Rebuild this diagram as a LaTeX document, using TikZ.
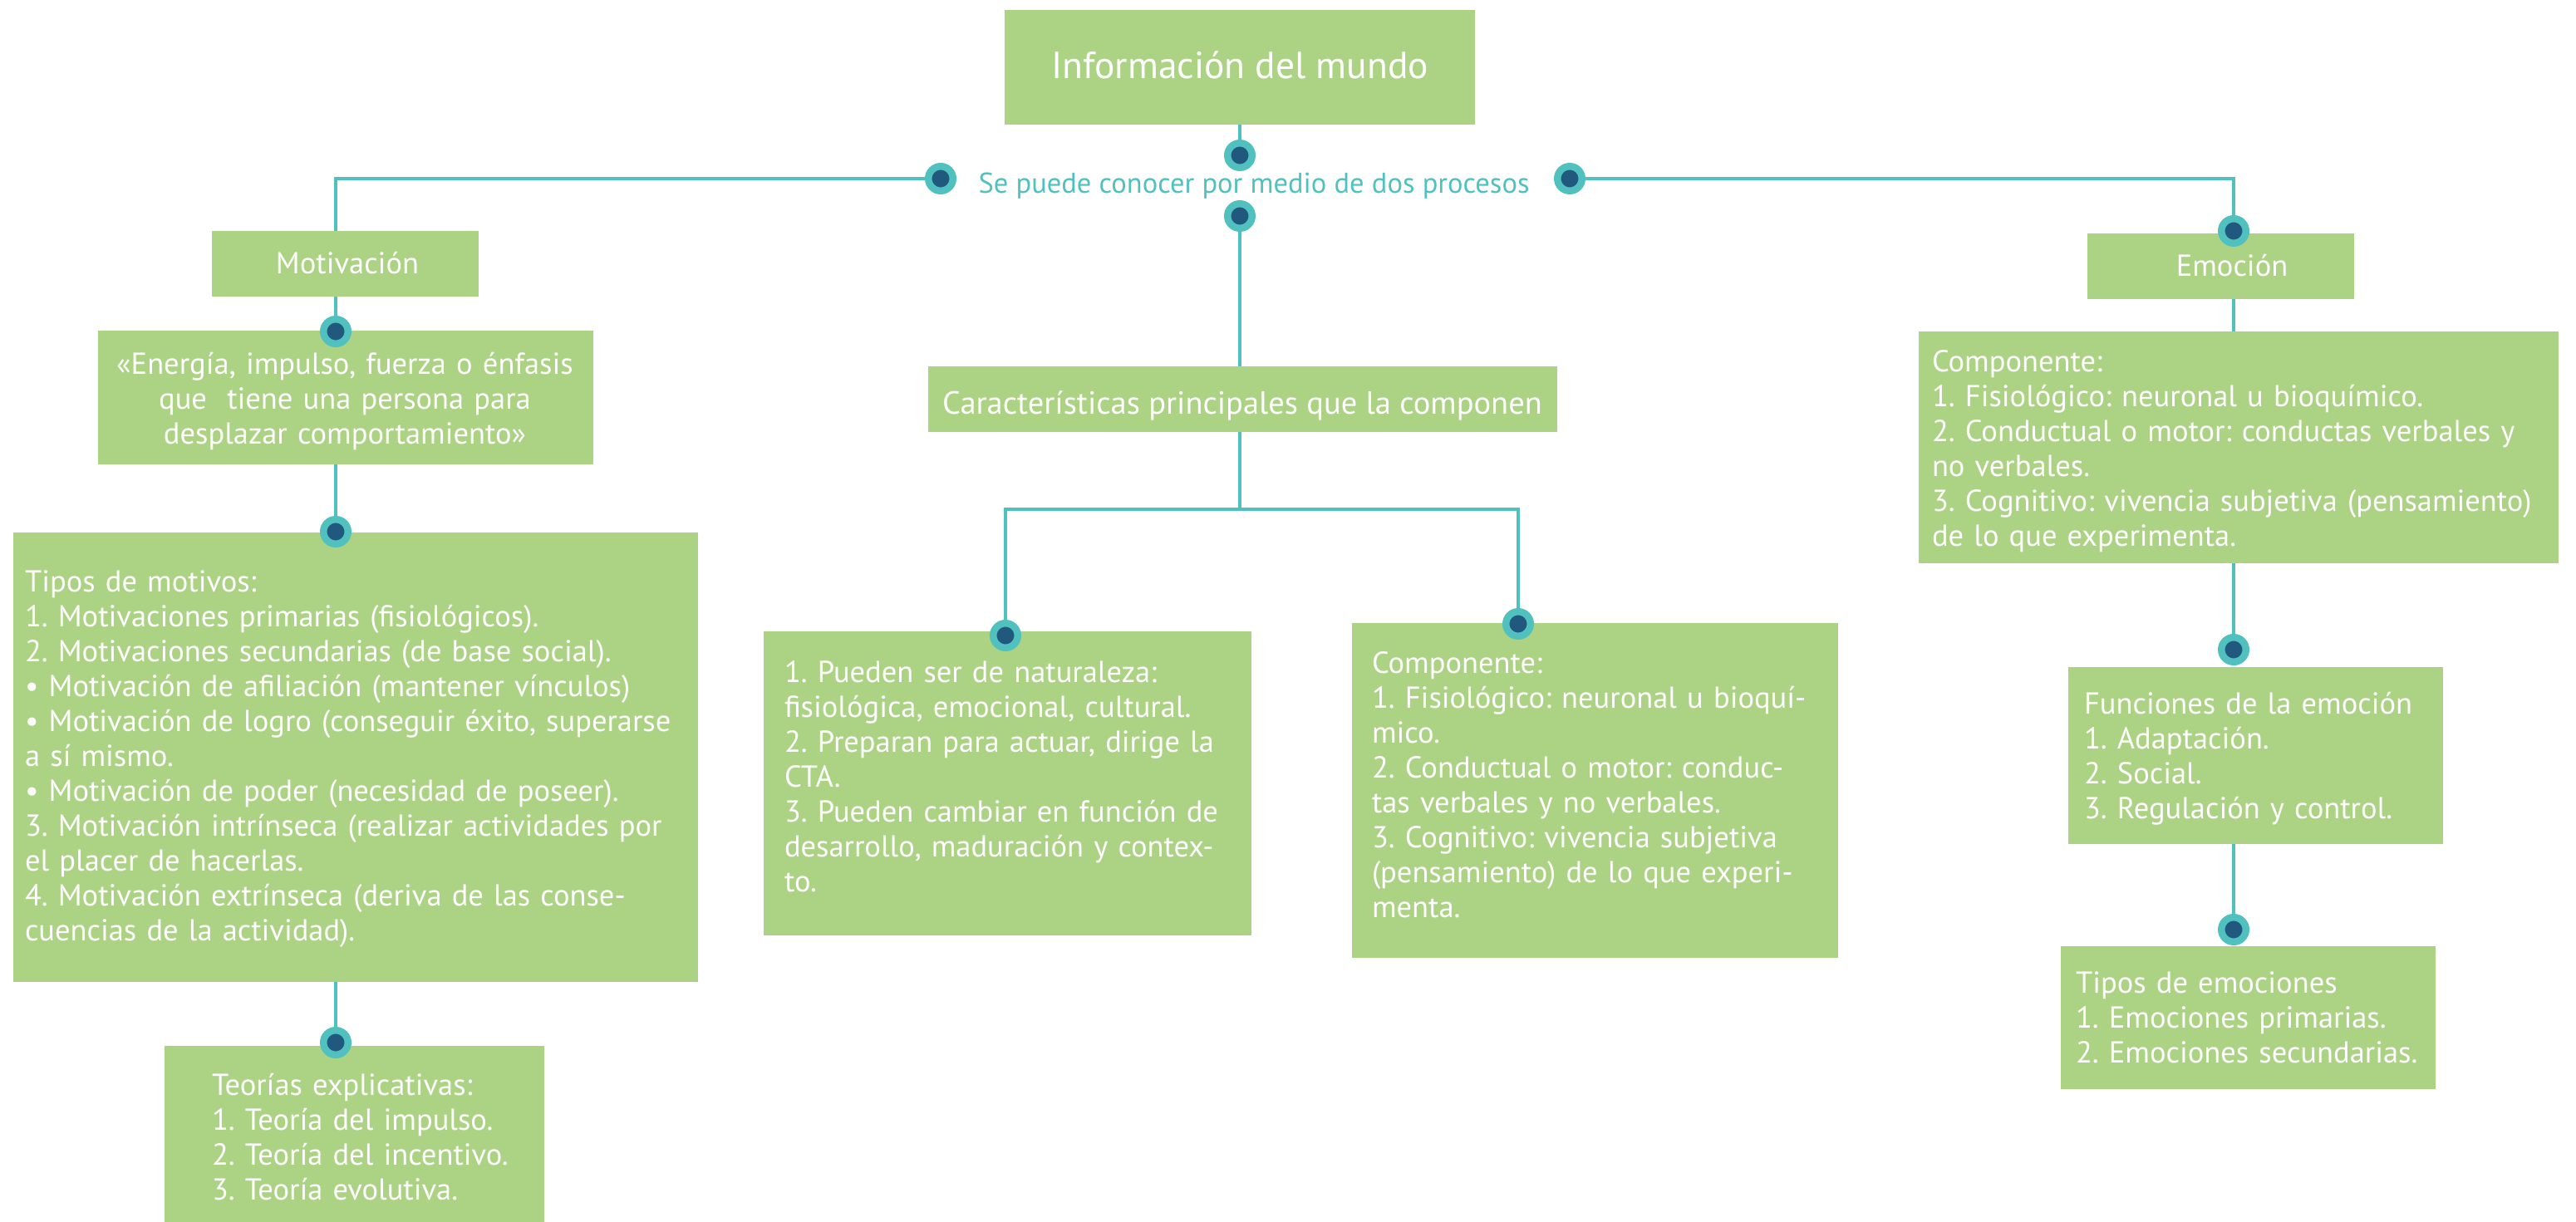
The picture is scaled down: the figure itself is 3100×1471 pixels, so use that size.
\documentclass[tikz,border=0pt]{standalone}
\usepackage{fontspec}
\setmainfont{PT Sans}
\frenchspacing
\definecolor{boxg}{RGB}{172,210,132}
\definecolor{lineteal}{RGB}{80,193,190}
\definecolor{dotblue}{RGB}{33,88,125}
\pgfdeclarelayer{background}
\pgfsetlayers{background,main}
\tikzset{
  box/.style={rectangle, fill=boxg, draw=none, inner sep=0pt, outer sep=0pt, anchor=north west},
  txt/.style={text=white, inner sep=0pt, outer sep=0pt, font=\fontsize{36.5}{42}\selectfont, align=left, anchor=base west},
  ctxt/.style={text=white, inner sep=0pt, outer sep=0pt, font=\fontsize{36.5}{42}\selectfont, align=center, anchor=base},
  conn/.style={draw=lineteal, line width=4.5pt},
  knot/.style={circle, fill=dotblue, draw=lineteal, line width=8.5pt, minimum size=29.5pt, inner sep=0pt, outer sep=0pt},
}
\begin{document}
\begin{tikzpicture}[x=1pt,y=-1pt]
\useasboundingbox (0,0) rectangle (3100,1471);
% boxes
\node[box, minimum width=566pt, minimum height=138pt] (title) at (1209,12) {};
\node[box, minimum width=321pt, minimum height=79pt] (mot) at (255,278) {};
\node[box, minimum width=596pt, minimum height=161pt] (ener) at (118,398) {};
\node[box, minimum width=824pt, minimum height=541pt] (tmot) at (16,641) {};
\node[box, minimum width=457pt, minimum height=212pt] (teor) at (198,1259) {};
\node[box, minimum width=757pt, minimum height=79pt] (car) at (1117,441) {};
\node[box, minimum width=587pt, minimum height=366pt] (bA) at (919,760) {};
\node[box, minimum width=585pt, minimum height=403pt] (bB) at (1627,750) {};
\node[box, minimum width=321pt, minimum height=79pt] (emo) at (2512,281) {};
\node[box, minimum width=770pt, minimum height=279pt] (comp) at (2309,399) {};
\node[box, minimum width=451pt, minimum height=213pt] (func) at (2489,803) {};
\node[box, minimum width=451pt, minimum height=172pt] (temo) at (2480,1139) {};
% knots
\node[knot] (dTop) at (1492,187) {};
\node[knot] (dL) at (1132,215) {};
\node[knot] (dR) at (1889,215) {};
\node[knot] (dB) at (1492,260) {};
\node[knot] (dEner) at (404,399) {};
\node[knot] (dTmot) at (404,640) {};
\node[knot] (dTeor) at (404,1255) {};
\node[knot] (dBA) at (1210,765) {};
\node[knot] (dBB) at (1827,751) {};
\node[knot] (dEmo) at (2688,278) {};
\node[knot] (dFunc) at (2688,782) {};
\node[knot] (dTemo) at (2688,1119) {};
\coordinate (br) at (1492,613);
% connectors
\begin{pgfonlayer}{background}
\draw[conn] (title.south -| dTop) -- (dTop);
\draw[conn] (dL) -| (mot.north -| dEner);
\draw[conn] (mot.south -| dEner) -- (dEner);
\draw[conn] (ener.south -| dTmot) -- (dTmot);
\draw[conn] (tmot.south -| dTeor) -- (dTeor);
\draw[conn] (dR) -| (dEmo);
\draw[conn] (emo.south -| dEmo) -- (comp.north -| dEmo);
\draw[conn] (comp.south -| dFunc) -- (dFunc);
\draw[conn] (func.south -| dTemo) -- (dTemo);
\draw[conn] (dB) -- (car.north -| dB);
\draw[conn] (car.south -| br) -- (br);
\draw[conn] (dBA) |- (br) -| (dBB);
\end{pgfonlayer}
% texts
\node[ctxt, font=\fontsize{45.5}{50}\selectfont] (title-t) at (1492,95) {Información del mundo};
\node[ctxt, text=lineteal, font=\fontsize{34.5}{40}\selectfont] (sub-t) at (1509,233) {Se puede conocer por medio de dos procesos};
\node[ctxt] (mot-t) at (418,330) {Motivación};
\node[ctxt, text width=590pt] (ener-t) at (415,450) {«Energía, impulso, fuerza o énfasis\\que\ \ tiene una persona para\\desplazar comportamiento»};
\node[txt, text width=810pt] (tmot-t) at (30,712) {Tipos de motivos:\\
1. Motivaciones primarias (fisiológicos).\\
2. Motivaciones secundarias (de base social).\\
• Motivación de afiliación (mantener vínculos)\\
• Motivación de logro (conseguir éxito, superarse\\
a sí mismo.\\
• Motivación de poder (necesidad de poseer).\\
3. Motivación intrínseca (realizar actividades por\\
el placer de hacerlas.\\
4. Motivación extrínseca (deriva de las conse-\\
cuencias de la actividad).};
\node[txt, text width=400pt] (teor-t) at (255,1318) {Teorías explicativas:\\
1. Teoría del impulso.\\
2. Teoría del incentivo.\\
3. Teoría evolutiva.};
\node[ctxt, font=\fontsize{38.5}{44}\selectfont] (car-t) at (1495,498) {Características principales que la componen};
\node[txt, text width=570pt] (bA-t) at (944,821) {1. Pueden ser de naturaleza:\\
fisiológica, emocional, cultural.\\
2. Preparan para actuar, dirige la\\
CTA.\\
3. Pueden cambiar en función de\\
desarrollo, maduración y contex-\\
to.};
\node[txt, text width=570pt] (bB-t) at (1651,810) {Componente:\\
1. Fisiológico: neuronal u bioquí-\\
mico.\\
2. Conductual o motor: conduc-\\
tas verbales y no verbales.\\
3. Cognitivo: vivencia subjetiva\\
(pensamiento) de lo que experi-\\
menta.};
\node[ctxt] (emo-t) at (2686,333) {Emoción};
\node[txt, text width=770pt] (comp-t) at (2325,447) {Componente:\\
1. Fisiológico: neuronal u bioquímico.\\
2. Conductual o motor: conductas verbales y\\
no verbales.\\
3. Cognitivo: vivencia subjetiva (pensamiento)\\
de lo que experimenta.};
\node[txt, text width=440pt] (func-t) at (2508,859) {Funciones de la emoción\\
1. Adaptación.\\
2. Social.\\
3. Regulación y control.};
\node[txt, text width=440pt] (temo-t) at (2498,1195) {Tipos de emociones\\
1. Emociones primarias.\\
2. Emociones secundarias.};
\end{tikzpicture}
\end{document}
